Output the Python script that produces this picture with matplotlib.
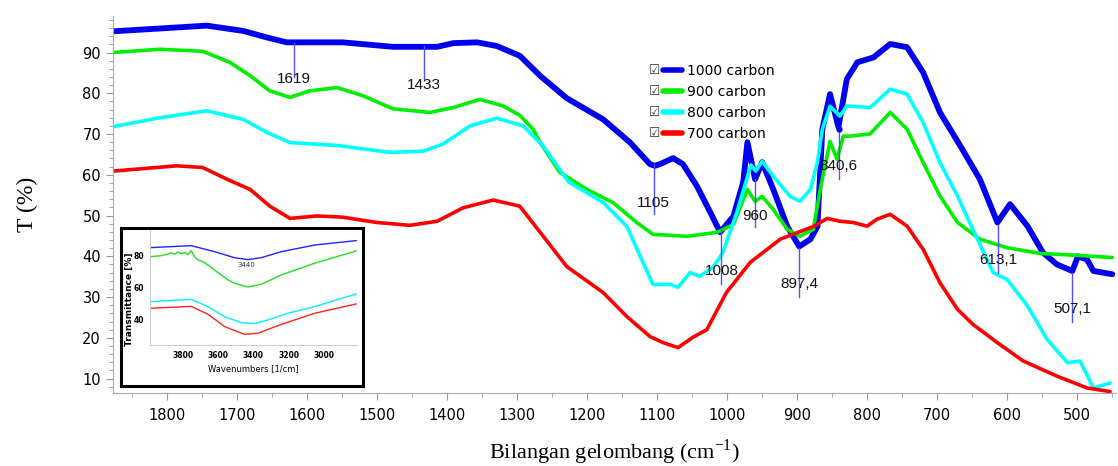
import numpy as np
import matplotlib
matplotlib.use('Agg')
import matplotlib.pyplot as plt
from matplotlib.ticker import MultipleLocator

# ---------------- data ----------------
wn_1000 = [1877, 1810, 1743, 1691, 1657, 1629, 1549, 1477, 1414, 1391, 1357, 1329, 1296, 1267,
           1229, 1177, 1139, 1110, 1103, 1096, 1077, 1063, 1043, 1024, 1010, 991, 977, 971, 960,
           950, 934, 914, 897, 881, 871, 864, 853, 841, 829, 814, 791, 767, 743, 720, 696, 667,
           639, 614, 596, 571, 549, 529, 507, 499, 486, 477, 450]
t_1000 = [95.2, 95.9, 96.6, 95.3, 93.7, 92.5, 92.5, 91.4, 91.4, 92.3, 92.5, 91.6, 89.2, 84.3,
          78.8, 73.6, 68.0, 62.6, 62.2, 62.6, 64.1, 62.6, 57.2, 50.8, 45.9, 49.8, 58.2, 68.0, 58.9,
          63.1, 56.4, 47.3, 42.4, 44.2, 47.3, 71.2, 79.8, 71.7, 83.5, 87.6, 88.8, 92.1, 91.3, 85.1, 75.3, 67.1,
          58.9, 48.3, 52.8, 47.4, 40.9, 38.0, 36.4, 40.0, 39.2, 36.4, 35.6]

wn_900 = [1877, 1810, 1749, 1710, 1681, 1653, 1624, 1596, 1557, 1520, 1477, 1424, 1391, 1353,
          1320, 1296, 1277, 1267, 1239, 1200, 1163, 1129, 1106, 1057, 1014, 991, 971, 960, 950,
          934, 914, 896, 877, 867, 853, 843, 834, 824, 796, 767, 743, 720, 696, 671, 639, 600,
          553, 506, 450]
t_900 = [90.0, 90.8, 90.3, 87.6, 84.3, 80.6, 79.0, 80.6, 81.4, 79.4, 76.2, 75.3, 76.5, 78.5,
         76.9, 74.6, 71.2, 67.9, 60.6, 56.4, 53.2, 48.3, 45.4, 44.9, 45.9, 47.8, 56.4, 53.5, 54.7,
         51.5, 46.6, 44.9, 46.6, 56.4, 68.2, 63.8, 69.5, 69.5, 70.0, 75.3, 71.2, 63.0, 54.8, 48.3, 44.2, 42.1,
         40.7, 40.3, 39.7]

wn_800 = [1877, 1810, 1743, 1691, 1657, 1624, 1557, 1481, 1434, 1406, 1367, 1329, 1291, 1263,
          1226, 1177, 1143, 1124, 1106, 1081, 1070, 1053, 1039, 1020, 1006, 986, 966, 959, 950,
          934, 910, 896, 881, 871, 864, 853, 839, 829, 796, 767, 743, 720, 696, 671, 649, 620,
          600, 571, 543, 514, 496, 477, 453]
t_800 = [71.8, 74.0, 75.7, 73.6, 70.4, 67.9, 67.2, 65.5, 65.8, 67.5, 72.0, 73.9, 72.0, 67.1,
         58.2, 53.2, 47.3, 40.0, 33.1, 33.1, 32.4, 36.0, 35.1, 37.3, 40.9, 50.8, 62.4, 60.9, 63.3,
         59.6, 54.7, 53.5, 56.4, 63.1, 71.2, 76.8, 74.4, 76.9, 76.5, 81.0, 79.8, 72.8, 63.0, 54.8, 46.6, 36.0,
         34.3, 27.8, 19.6, 13.9, 14.3, 7.7, 8.9]

wn_700 = [1877, 1786, 1749, 1714, 1681, 1653, 1624, 1586, 1549, 1500, 1453, 1414, 1377, 1334,
          1296, 1267, 1229, 1177, 1143, 1110, 1091, 1070, 1049, 1029, 1001, 967, 924, 877, 857,
          839, 820, 800, 786, 767, 743, 720, 696, 671, 649, 614, 577, 529, 486, 453]
t_700 = [60.9, 62.2, 61.8, 58.9, 56.4, 52.3, 49.3, 49.9, 49.6, 48.3, 47.6, 48.6, 51.9, 53.8,
         52.3, 45.9, 37.5, 31.1, 25.2, 20.3, 18.8, 17.6, 20.1, 22.0, 31.1, 38.5, 44.2, 47.3, 49.3,
         48.6, 48.3, 47.4, 49.1, 50.3, 47.4, 41.7, 33.5, 27.0, 23.3, 18.8, 14.3, 10.6, 7.7, 6.8]

series_labels = ['1000 carbon', '900 carbon', '800 carbon', '700 carbon']
series_colors = ['#0000ee', '#00ee00', '#00ffff', '#ff0000']

# peak markers: position, label, line top, line bottom, label height
peak_wn = [1619, 1433, 1105, 1008, 960, 897.4, 840.6, 613.1, 507.1]
peak_txt = ['1619', '1433', '1105', '1008', '960', '897,4', '840,6', '613,1', '507,1']
peak_top = [92.3, 91.6, 62.6, 46.6, 59.0, 42.0, 71.2, 47.8, 36.0]
peak_bot = [84.0, 83.5, 50.3, 33.1, 47.1, 30.1, 58.9, 36.0, 24.0]
peak_lab = [83.5, 82.0, 53.2, 36.3, 49.8, 33.1, 62.1, 39.2, 27.0]

# inset (3000-4000 cm-1 region)
in_wn_blue = [3980, 3753, 3620, 3507, 3431, 3356, 3242, 3053, 2817]
in_t_blue = [85.3, 86.5, 82.7, 78.9, 77.7, 78.9, 82.7, 86.9, 89.7]
in_wn_green = [3980, 3920, 3885, 3866, 3847, 3828, 3810, 3791, 3772, 3753, 3734, 3715, 3696,
               3677, 3658, 3620, 3583, 3545, 3507, 3431, 3356, 3242, 3053, 2817]
in_t_green = [79.6, 80.2, 81.3, 82.0, 81.1, 82.5, 81.3, 82.3, 80.9, 83.4, 79.6, 77.5, 76.8,
              75.8, 74.3, 71.0, 68.0, 65.0, 62.7, 60.4, 62.1, 68.0, 75.4, 83.2]
in_wn_cyan = [3980, 3753, 3658, 3563, 3469, 3394, 3318, 3205, 3053, 2817]
in_t_cyan = [51.2, 52.6, 48.0, 41.7, 37.9, 37.3, 39.6, 43.8, 48.0, 56.0]
in_wn_red = [3980, 3753, 3658, 3563, 3450, 3375, 3242, 3053, 2817]
in_t_red = [47.0, 48.2, 43.2, 35.4, 30.5, 31.2, 36.8, 43.8, 49.7]

# ---------------- figure ----------------
fig = plt.figure(figsize=(11.18, 4.66), dpi=100)
ax = fig.add_axes([0.101, 0.157, 0.897, 0.809])

all_wn = [wn_1000, wn_900, wn_800, wn_700]
all_t = [t_1000, t_900, t_800, t_700]
widths = [4.2, 2.6, 2.6, 2.6]
for w, t, lab, c, lw in zip(all_wn, all_t, series_labels, series_colors, widths):
    ax.plot(w, t, color=c, lw=lw, label=lab, solid_joinstyle='round', solid_capstyle='round')

# peak marker lines + labels
for w, txt, yt, yb, yl in zip(peak_wn, peak_txt, peak_top, peak_bot, peak_lab):
    ax.plot([w, w], [yt, yb], color='#5050ff', lw=1.0, zorder=5)
    ax.text(w, yl, txt, ha='center', va='center', fontsize=11,
            family='Liberation Sans', color='#111111', zorder=6)
ax.plot([840.6], [71.2], 'o', color='#0000ee', ms=3.5, zorder=6)

ax.set_xlim(1877, 445)
ax.set_ylim(6.5, 99)
ax.set_xticks(np.arange(1800, 499, -100))
ax.xaxis.set_minor_locator(MultipleLocator(50))
ax.set_yticks(np.arange(10, 91, 10))
ax.yaxis.set_minor_locator(MultipleLocator(2))
for s in ['top', 'right']:
    ax.spines[s].set_visible(False)
for s in ['left', 'bottom']:
    ax.spines[s].set_color('#aaaaaa')
ax.tick_params(which='both', colors='#999999', labelcolor='black', labelsize=10.5)
ax.tick_params(which='major', length=5)
ax.tick_params(which='minor', length=3)
ax.tick_params(axis='x', which='major', pad=6)

ax.set_ylabel('T (%)', family='Liberation Serif', fontsize=17, labelpad=32)
ax.set_xlabel('Bilangan gelombang (cm$^{\\mathregular{-1}}$)', family='Liberation Serif',
              fontsize=16, labelpad=10)

leg = ax.legend(loc='upper left', bbox_to_anchor=(656 / 1118, 1 - 57 / 466),
                bbox_transform=fig.transFigure, frameon=False, fontsize=10,
                handlelength=1.4, handletextpad=0.35, labelspacing=0.5, borderpad=0)
for h in leg.get_lines():
    h.set_linewidth(4)

# check boxes in front of legend entries
fig.canvas.draw()
for t in leg.get_texts():
    bb = t.get_window_extent()
    fx = (bb.x0 - 33) / fig.bbox.width
    fy = (bb.y0 + bb.y1) / 2 / fig.bbox.height
    fig.text(fx, fy, '\u2611', ha='center', va='center', fontsize=9, color='#333333')

# ---------------- inset ----------------
box = fig.add_axes([121 / 1118, 1 - 386 / 466, 242 / 1118, 158 / 466])
box.set_xticks([])
box.set_yticks([])
box.set_facecolor('white')
for s in box.spines.values():
    s.set_linewidth(2.2)
    s.set_color('black')
box.text(0.035, 0.55, 'Transmittance [%]', rotation=90, ha='center', va='center',
         fontsize=6.5, fontweight='bold', transform=box.transAxes, clip_on=True)

ins = fig.add_axes([150 / 1118, 1 - 345 / 466, 207 / 1118, 115 / 466])
ins.plot(in_wn_blue, in_t_blue, color='#2222ff', lw=1)
ins.plot(in_wn_green, in_t_green, color='#22dd22', lw=1)
ins.plot(in_wn_cyan, in_t_cyan, color='#00eeff', lw=1)
ins.plot(in_wn_red, in_t_red, color='#ff2222', lw=1)
ins.text(3440, 74.5, '3440', fontsize=5, ha='center', va='center', color='#333333')
ins.set_xlim(3987, 2812)
ins.set_ylim(23.8, 96.4)
ins.set_xticks([3800, 3600, 3400, 3200, 3000])
ins.set_yticks([40, 60, 80])
for s in ['top', 'right']:
    ins.spines[s].set_visible(False)
for s in ['left', 'bottom']:
    ins.spines[s].set_color('#cccccc')
ins.tick_params(length=0, labelsize=5.5, pad=4)
for lab in ins.get_xticklabels() + ins.get_yticklabels():
    lab.set_fontweight('bold')
ins.set_xlabel('Wavenumbers [1/cm]', fontsize=6, labelpad=3)

fig.savefig('out.png', dpi=100)
